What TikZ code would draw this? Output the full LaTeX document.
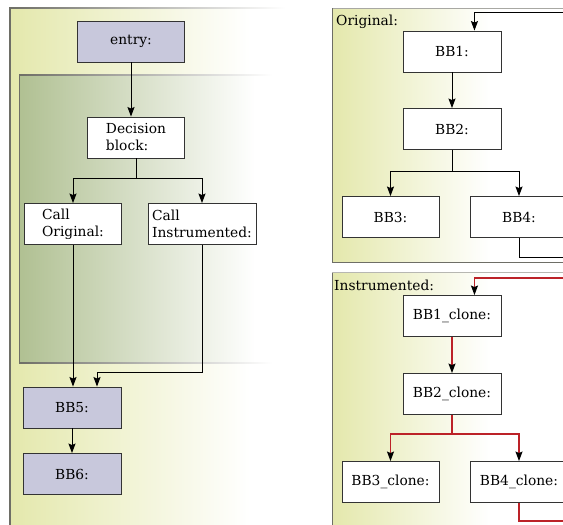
\documentclass[tikz,border=0pt]{standalone}
\usepackage{fontspec}
\setmainfont{DejaVu Serif}
\usetikzlibrary{arrows.meta,positioning}

\definecolor{bbfill}{HTML}{C8C8DC}
\definecolor{panelyellow}{HTML}{E4E8AC}
\definecolor{panelgreen}{HTML}{B0C092}
\definecolor{instred}{HTML}{BC2228}
\definecolor{framegray}{HTML}{6E6E66}

\tikzset{
  block/.style={draw=black!80, line width=0.9pt, fill=white, minimum width=97pt,
    minimum height=41pt, inner sep=2pt, font=\fontsize{13.8}{17}\selectfont},
  graybb/.style={block, fill=bbfill},
  panellabel/.style={anchor=base west, inner sep=0pt, font=\fontsize{13.8}{17}\selectfont},
  flow/.style={line width=1pt, -{Stealth[length=9.5pt,width=7pt,inset=1.5pt]}},
  redflow/.style={line width=1.2pt, color=instred, -{Stealth[length=9.5pt,width=7pt,inset=1.5pt,color=black,fill=black]}},
}

\begin{document}
\begin{tikzpicture}[x=1pt,y=-1pt]
    \useasboundingbox (0,0) rectangle (563,525);
    \clip (0,0) rectangle (563,525);

    % left panel
    \shade[left color=panelyellow, right color=white] (9,8) rectangle (250,530);
    \shade[left color=framegray, right color=white] (9,7.2) rectangle (285,8.6);
    \draw[framegray, line width=1.6pt] (10,8) -- (10,530);

    % inner frame
    \shade[left color=panelgreen, right color=white] (19,75) rectangle (255,363);
    \shade[left color=framegray, right color=white] (19,74.3) rectangle (272,75.7);
    \shade[left color=framegray, right color=white] (19,362.3) rectangle (272,363.7);
    \draw[framegray, line width=1.2pt] (19.5,75) -- (19.5,363);

    % right panels
    \shade[left color=panelyellow, right color=white] (332,8) rectangle (490,262);
    \draw[framegray!60, line width=1pt] (332,8) -- (570,8);
    \draw[framegray, line width=1pt] (332,262) -- (570,262);
    \draw[framegray, line width=1.4pt] (332.5,8) -- (332.5,262);

    \shade[left color=panelyellow, right color=white] (332,273) rectangle (490,530);
    \draw[framegray!50, line width=0.8pt] (332,272.5) -- (570,272.5);
    \draw[framegray, line width=1.4pt] (332.5,273) -- (332.5,530);

    % left flow
    \node[graybb, minimum width=107pt] (entry) at (131,41.5) {entry:};
    \node[block, align=left] (decision) at (136,137.5) {Decision\\block:};
    \node[block, align=left] (callorig) at (73,224) {Call\\Original:};
    \node[block, align=left, minimum width=108pt] (callinst) at (202,224) {Call\\Instrumented:};
    \node[graybb, minimum width=98pt] (bb5) at (72,407.5) {BB5:};
    \node[graybb, minimum width=98pt] (bb6) at (72,474) {BB6:};

    \coordinate (split) at (136,178);
    \coordinate (join) at (97,372);

    \draw[flow] (entry.south) -- (entry.south |- decision.north);
    \draw[line width=1pt] (decision.south) -- (split);
    \draw[flow] (split) -| (callorig.north);
    \draw[flow] (split) -| (callinst.north);
    \draw[flow] (callorig.south) -- (callorig.south |- bb5.north);
    \draw[flow] (callinst.south) |- (join) -- (join |- bb5.north);
    \draw[flow] (bb5) -- (bb6);

    % original
    \node[panellabel] (origlabel) at (336,25) {Original:};
    \node[block, minimum width=98pt] (bb1) at (452,51.5) {BB1:};
    \node[block, minimum width=98pt] (bb2) at (452,129) {BB2:};
    \node[block] (bb3) at (390.5,217) {BB3:};
    \node[block, minimum width=98pt] (bb4) at (519,217) {BB4:};

    \coordinate (origsplit) at (452,171);
    \coordinate (origback) at (590,257);
    \coordinate (origtop) at (590,12);

    \draw[flow] (bb1) -- (bb2);
    \draw[line width=1pt] (bb2.south) -- (origsplit);
    \draw[flow] (origsplit) -| (bb3.north);
    \draw[flow] (origsplit) -| (bb4.north);
    \draw[flow] (bb4.south) |- (origback) -- (origtop) -| (bb1.43);

    % instrumented
    \node[panellabel] (instlabel) at (334,290) {Instrumented:};
    \node[block, minimum width=98pt] (bb1c) at (452,316) {BB1\_clone:};
    \node[block, minimum width=98pt] (bb2c) at (452,394) {BB2\_clone:};
    \node[block] (bb3c) at (390.5,482) {BB3\_clone:};
    \node[block, minimum width=98pt] (bb4c) at (519,482) {BB4\_clone:};

    \coordinate (instsplit) at (452,434);
    \coordinate (instback) at (590,521);
    \coordinate (insttop) at (590,278);

    \draw[redflow] (bb1c) -- (bb2c);
    \draw[instred, line width=1.2pt] (bb2c.south) -- (instsplit);
    \draw[redflow] (instsplit) -| (bb3c.north);
    \draw[redflow] (instsplit) -| (bb4c.north);
    \draw[redflow] (bb4c.south) |- (instback) -- (insttop) -| (bb1c.43);
\end{tikzpicture}
\end{document}
